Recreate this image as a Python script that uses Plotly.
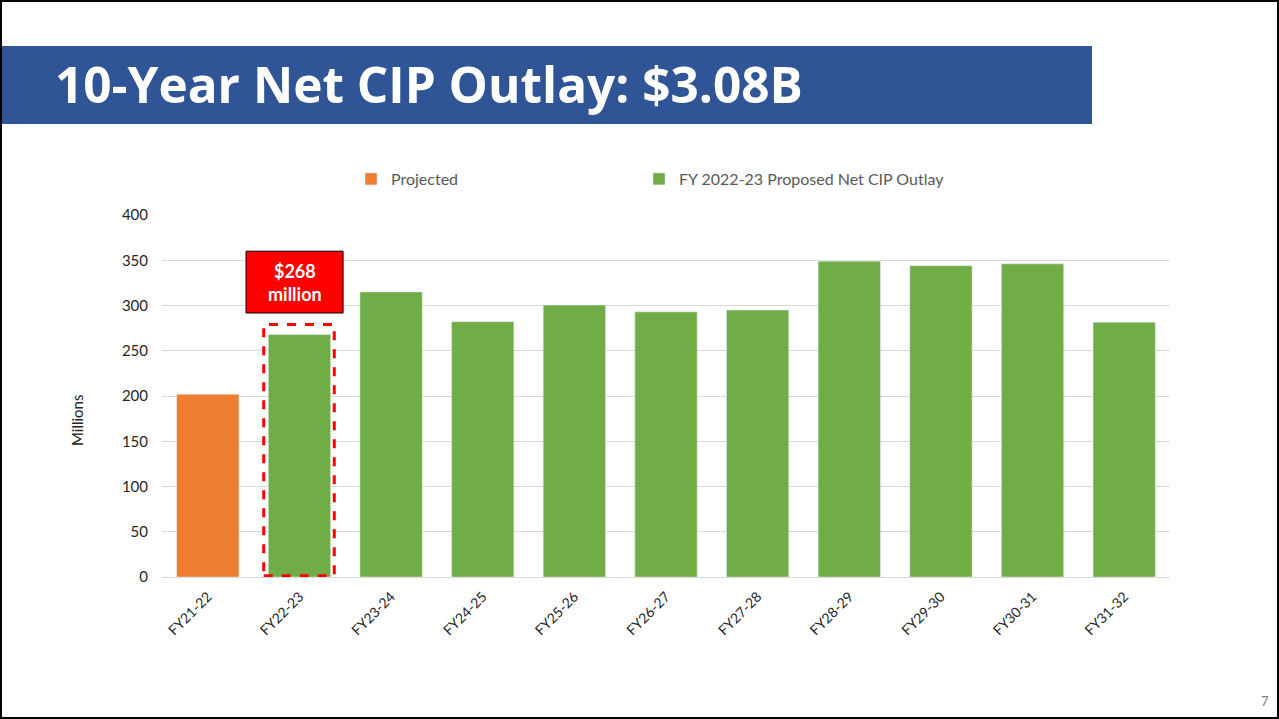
import plotly.graph_objects as go

categories = ["FY21-22", "FY22-23", "FY23-24", "FY24-25", "FY25-26", "FY26-27",
              "FY27-28", "FY28-29", "FY29-30", "FY30-31", "FY31-32"]
projected_cats = ["FY21-22"]
projected_vals = [202]
proposed_cats = categories[1:]
proposed_vals = [268, 315, 282, 300.5, 293, 295, 349, 344, 346, 281.5]
y_ticks = [0, 50, 100, 150, 200, 250, 300, 350, 400]

W, H = 1279, 719
L, R, T, B = 162, 1279 - 1170, 215, 719 - 577
PW, PH = W - L - R, H - T - B


def px(x):
    return (x - L) / PW


def py(y):
    return (H - B - y) / PH


FONT = "Lato"
fig = go.Figure()
fig.add_trace(go.Bar(x=projected_cats, y=projected_vals, name="Projected",
                     marker_color="#ED7D31", width=0.68, legend="legend"))
fig.add_trace(go.Bar(x=proposed_cats, y=proposed_vals,
                     name="FY 2022-23 Proposed Net CIP Outlay",
                     marker_color="#70AD47", width=0.68, legend="legend2"))

shapes = [
    # slide border
    dict(type="rect", xref="paper", yref="paper", x0=px(1), x1=px(1278), y0=py(718), y1=py(1),
         line=dict(color="#000000", width=2), fillcolor="rgba(0,0,0,0)", layer="above"),
    # title band
    dict(type="rect", xref="paper", yref="paper", x0=px(2), x1=px(1092), y0=py(124), y1=py(46),
         line=dict(width=0), fillcolor="#2F5597", layer="below"),
    # dashed highlight around FY22-23
    dict(type="rect", xref="x", yref="y", x0=0.61, x1=1.38, y0=1.5, y1=279,
         line=dict(color="#FF0000", width=3, dash="dash"), fillcolor="rgba(0,0,0,0)", layer="above"),
    # red callout box
    dict(type="rect", xref="x", yref="y", x0=0.417, x1=1.476, y0=291.7, y1=360,
         line=dict(color="#000000", width=1), fillcolor="#FF0000", layer="above"),
]

annotations = [
    dict(text="<b>10-Year Net CIP Outlay: $3.08B</b>", xref="paper", yref="paper",
         x=px(53), y=py(84), xanchor="left", yanchor="middle", showarrow=False,
         font=dict(family="Open Sans", size=49.5, color="#FFFFFF")),
    dict(text="<b>$268<br>million</b>", xref="x", yref="y", x=0.9465, y=325.85,
         xanchor="center", yanchor="middle", showarrow=False,
         font=dict(family=FONT, size=18, color="#FFFFFF")),
    dict(text="Millions", xref="paper", yref="paper", x=px(77), y=py(421), textangle=-90,
         xanchor="center", yanchor="middle", showarrow=False,
         font=dict(family=FONT, size=15, color="#262626")),
    dict(text="7", xref="paper", yref="paper", x=px(1271), y=py(701), xanchor="right",
         yanchor="middle", showarrow=False, font=dict(family=FONT, size=13, color="#7F7F7F")),
]

leg_common = dict(orientation="h", yanchor="middle", xanchor="left", itemwidth=30,
                  font=dict(family=FONT, size=16, color="#595959"),
                  bgcolor="rgba(0,0,0,0)")

fig.update_layout(
    width=W, height=H,
    margin=dict(l=L, r=R, t=T, b=B, autoexpand=False),
    paper_bgcolor="#FFFFFF", plot_bgcolor="#FFFFFF",
    barmode="overlay",
    showlegend=True,
    legend=dict(x=px(351), y=py(179), **leg_common),
    legend2=dict(x=px(639), y=py(179), **leg_common),
    font=dict(family=FONT, color="#262626"),
    shapes=shapes, annotations=annotations,
    xaxis=dict(categoryorder="array", categoryarray=categories, tickangle=-45,
               tickfont=dict(family=FONT, size=14, color="#262626"),
               showgrid=False, showline=True, linecolor="#D9D9D9", linewidth=1,
               ticks="", range=[-0.5, 10.5], ticklabelstandoff=5),
    yaxis=dict(range=[0, 400], tickvals=y_ticks, showgrid=True, gridcolor="#D9D9D9",
               gridwidth=1, zeroline=False, showline=False, ticks="",
               tickfont=dict(family=FONT, size=15, color="#262626"),
               ticklabelstandoff=13),
)

fig.write_html("out.html")
